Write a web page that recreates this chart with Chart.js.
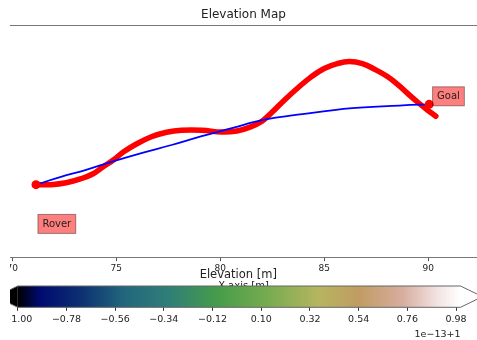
<!DOCTYPE html>
<html lang="en">
<head>
<meta charset="UTF-8">
<title>Elevation Map</title>
<script src="https://cdn.jsdelivr.net/npm/chart.js@4.4.1/dist/chart.umd.min.js"></script>
<style>
    body { margin: 0; background: #fff; }
    #wrap { position: relative; width: 477px; height: 340px; overflow: hidden; }
    canvas { position: absolute; left: 0; clip-path: inset(0 0 0 10px); }
    #chart { top: 0; }
    #cbar { top: 265px; }
</style>
</head>
<body>
<div id="wrap">
    <canvas id="chart" width="477" height="300"></canvas>
    <canvas id="cbar" width="477" height="75"></canvas>
</div>

<script>
    // drawn path (red)
    const drawnX = [71.14, 71.86, 72.59, 73.31, 73.89, 74.37, 74.86, 75.34, 75.97, 76.69, 77.42, 78.14,
        79.11, 80.07, 80.80, 81.43, 82.01, 82.49, 83.07, 83.70, 84.33, 85.00, 85.63, 86.21,
        86.84, 87.46, 88.04, 88.53, 89.01, 89.50, 89.98, 90.37]
    const drawnY = [3.53, 3.53, 3.62, 3.82, 4.06, 4.40, 4.73, 5.12, 5.51, 5.86, 6.08, 6.18,
        6.18, 6.09, 6.14, 6.33, 6.62, 7.05, 7.63, 8.21, 8.74, 9.18, 9.42, 9.52,
        9.42, 9.13, 8.79, 8.41, 7.97, 7.54, 7.15, 6.86]

    // planned path (blue)
    const planX = [71.14, 72.34, 73.55, 74.76, 76.21, 77.66, 79.11, 80.56, 82.01, 83.94, 86.35, 88.77, 90.05]
    const planY = [3.53, 3.91, 4.25, 4.64, 5.07, 5.46, 5.89, 6.28, 6.67, 6.96, 7.25, 7.39, 7.44]

    // start / goal markers
    const markerX = [71.14, 90.05]
    const markerY = [3.53, 7.44]

    // text boxes
    const boxText = ['Rover', 'Goal']
    const boxX = [71.45, 90.43]
    const boxY = [1.62, 7.83]

    const xTicks = [70, 75, 80, 85, 90]

    // colorbar
    const cbTicks = [-1.00, -0.78, -0.56, -0.34, -0.12, 0.10, 0.32, 0.54, 0.76, 0.98]
    const cbTickLabels = ['\u22121.00', '\u22120.78', '\u22120.56', '\u22120.34', '\u22120.12',
        '0.10', '0.32', '0.54', '0.76', '0.98']

    // gist_earth-like stops
    const cmapStops = [
        [0.00, '#000000'],
        [0.05, '#000a70'],
        [0.14, '#0c2f72'],
        [0.24, '#22667c'],
        [0.34, '#2f7e78'],
        [0.45, '#469c4a'],
        [0.56, '#75ab50'],
        [0.68, '#b5b55f'],
        [0.77, '#c19b63'],
        [0.87, '#d7ae9f'],
        [0.95, '#f3e4e4'],
        [1.00, '#ffffff']
    ]

    const font = 'DejaVu Sans'

    function toPoints(xs, ys) {
        return xs.map((v, i) => ({ x: v, y: ys[i] }))
    }

    //main chart-------------------------------------------
    const mapPlugin = {
        id: 'mapExtras',
        afterDatasetsDraw(chart) {
            const { ctx, scales: { x, y } } = chart
            ctx.save()
            ctx.font = '10px "' + font + '"'
            ctx.textBaseline = 'middle'
            boxText.forEach((t, i) => {
                const px = x.getPixelForValue(boxX[i])
                const py = y.getPixelForValue(boxY[i])
                const w = ctx.measureText(t).width
                ctx.fillStyle = 'rgba(255, 0, 0, 0.5)'
                ctx.fillRect(px - 4.5, py - 9.5, w + 9, 19)
                ctx.strokeStyle = 'rgba(0, 0, 0, 0.4)'
                ctx.lineWidth = 1
                ctx.strokeRect(px - 4.5, py - 9.5, w + 9, 19)
                ctx.fillStyle = '#222'
                ctx.fillText(t, px, py)
            })
            ctx.restore()
        },
        afterDraw(chart) {
            const { ctx, chartArea: a } = chart
            ctx.save()
            ctx.strokeStyle = '#777'
            ctx.lineWidth = 1
            ctx.beginPath()
            ctx.moveTo(a.left, a.top + 0.5)
            ctx.lineTo(a.right, a.top + 0.5)
            ctx.stroke()
            ctx.restore()
        }
    }

    new Chart(document.getElementById('chart'), {
        type: 'line',
        data: {
            datasets: [{
                data: toPoints(markerX, markerY),
                showLine: false,
                pointRadius: 4.5,
                pointBackgroundColor: 'red',
                pointBorderWidth: 0
            }, {
                data: toPoints(planX, planY),
                borderColor: '#0000ff',
                borderWidth: 1.8,
                pointRadius: 0,
                tension: 0.4
            }, {
                data: toPoints(drawnX, drawnY),
                borderColor: '#ff0000',
                borderWidth: 5.5,
                pointRadius: 0,
                tension: 0.4,
                borderCapStyle: 'round',
                borderJoinStyle: 'round'
            }]
        },
        options: {
            responsive: false,
            animation: false,
            devicePixelRatio: 1,
            layout: { autoPadding: false, padding: { left: 10, right: 0, top: 0, bottom: 8 } },
            plugins: {
                legend: { display: false },
                tooltip: { enabled: false },
                title: {
                    display: true,
                    text: 'Elevation Map',
                    color: '#222',
                    font: { family: font, size: 12, weight: 'normal', lineHeight: 1.2 },
                    padding: { top: 8, bottom: 2.6 }
                }
            },
            scales: {
                x: {
                    type: 'linear',
                    min: 69.89,
                    max: 92.35,
                    afterBuildTicks: s => { s.ticks = xTicks.map(v => ({ value: v })) },
                    grid: { drawOnChartArea: false, tickLength: 4, color: '#555' },
                    border: { color: '#777', width: 1 },
                    ticks: { padding: 2, color: '#222', maxRotation: 0, font: { family: font, size: 9, lineHeight: 1.2 } },
                    title: {
                        display: true,
                        text: 'X-axis [m]',
                        color: '#222',
                        font: { family: font, size: 10, lineHeight: 1.2 },
                        padding: { top: 4, bottom: 0 }
                    }
                },
                y: { display: false, min: 0, max: 11.3 }
            }
        },
        plugins: [mapPlugin]
    })

    //colorbar-------------------------------------------
    const cbarPlugin = {
        id: 'cbarFill',
        beforeDatasetsDraw(chart) {
            const { ctx, chartArea: a } = chart
            const ext = 22
            const mid = (a.top + a.bottom) / 2
            const g = ctx.createLinearGradient(a.left, 0, a.right, 0)
            cmapStops.forEach(([p, c]) => g.addColorStop(p, c))
            ctx.save()
            ctx.fillStyle = g
            ctx.fillRect(a.left, a.top, a.right - a.left, a.bottom - a.top)
            ctx.fillStyle = cmapStops[0][1]
            ctx.beginPath()
            ctx.moveTo(a.left, a.top)
            ctx.lineTo(a.left - ext, mid)
            ctx.lineTo(a.left, a.bottom)
            ctx.closePath()
            ctx.fill()
            ctx.fillStyle = cmapStops[cmapStops.length - 1][1]
            ctx.beginPath()
            ctx.moveTo(a.right, a.top)
            ctx.lineTo(a.right + ext, mid)
            ctx.lineTo(a.right, a.bottom)
            ctx.closePath()
            ctx.fill()
            ctx.strokeStyle = '#666'
            ctx.lineWidth = 1
            ctx.beginPath()
            ctx.moveTo(a.left, a.top)
            ctx.lineTo(a.right, a.top)
            ctx.lineTo(a.right + ext, mid)
            ctx.lineTo(a.right, a.bottom)
            ctx.lineTo(a.left, a.bottom)
            ctx.lineTo(a.left - ext, mid)
            ctx.closePath()
            ctx.stroke()
            ctx.restore()
        }
    }

    new Chart(document.getElementById('cbar'), {
        type: 'scatter',
        data: { datasets: [] },
        options: {
            responsive: false,
            animation: false,
            devicePixelRatio: 1,
            layout: { autoPadding: false, padding: { left: 16, right: 16.5, top: 0, bottom: 0 } },
            plugins: {
                legend: { display: false },
                tooltip: { enabled: false },
                title: {
                    display: true,
                    text: 'Elevation [m]',
                    color: '#222',
                    font: { family: font, size: 11.5, weight: 'normal', lineHeight: 1.2 },
                    padding: { top: 3.6, bottom: 3.6 }
                }
            },
            scales: {
                x: {
                    type: 'linear',
                    min: -1,
                    max: 1,
                    afterBuildTicks: s => { s.ticks = cbTicks.map(v => ({ value: v })) },
                    grid: { drawOnChartArea: false, tickLength: 3.5, color: '#333' },
                    border: { display: false },
                    ticks: {
                        padding: 3.2,
                        color: '#222',
                        maxRotation: 0,
                        autoSkip: false,
                        font: { family: font, size: 9.5, lineHeight: 1.2 },
                        callback: (v, i) => cbTickLabels[i]
                    },
                    title: {
                        display: true,
                        text: '1e\u221213+1',
                        align: 'end',
                        color: '#222',
                        font: { family: font, size: 9.5, lineHeight: 1.2 },
                        padding: { top: 0, bottom: 0 }
                    }
                },
                y: { display: false, min: 0, max: 1 }
            }
        },
        plugins: [cbarPlugin]
    })
</script>
</body>
</html>
